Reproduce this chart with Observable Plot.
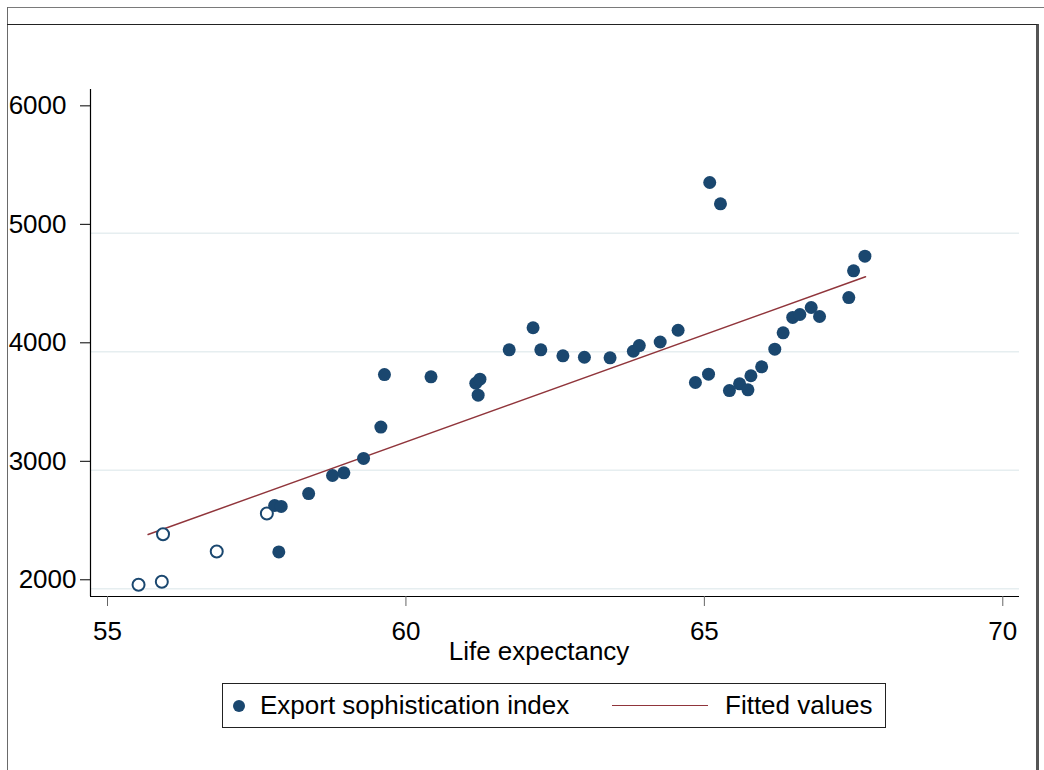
<!DOCTYPE html>
<html>
<head>
<meta charset="utf-8">
<script src="https://cdn.jsdelivr.net/npm/d3@7"></script>
<script src="https://cdn.jsdelivr.net/npm/@observablehq/plot@0.6"></script>
<style>
  html, body { margin: 0; padding: 0; background: #fff; }
  #wrap { position: relative; width: 1044px; height: 770px; overflow: hidden; background: #fff;
          font-family: "Liberation Sans", Arial, sans-serif; }
  #chart { position: absolute; left: 0; top: 0; }
  .topline { position: absolute; left: 7px; top: 7px; width: 1037px; height: 0; border-top: 1px solid #7a7a7a; }
  .leftline { position: absolute; left: 7px; top: 7px; width: 0; height: 763px; border-left: 1.5px solid #6a6a6a; }
  .innerframe { position: absolute; left: 7px; top: 24px; width: 1029px; height: 760px;
                border-top: 1.5px solid #222; border-right: 3px solid #555; }
  #legend { position: absolute; left: 222px; top: 683px; width: 664px; height: 45px;
            border: 1px solid #222; box-sizing: border-box; font-size: 26px; color: #000; }
  #legend .dot { position: absolute; left: 10px; top: 16px; width: 12px; height: 12px; border-radius: 50%; background: #1a476f; }
  #legend .t1 { position: absolute; left: 37px; top: 6px; white-space: nowrap; }
  #legend .ln { position: absolute; left: 389px; top: 21px; width: 96px; height: 0; border-top: 1.5px solid #90353b; }
  #legend .t2 { position: absolute; left: 502px; top: 6px; white-space: nowrap; }
</style>
</head>
<body>
<div id="wrap">
  <div class="topline"></div>
  <div class="leftline"></div>
  <div class="innerframe"></div>
  <div id="chart"></div>
  <div id="legend">
    <div class="dot"></div><div class="t1">Export sophistication index</div>
    <div class="ln"></div><div class="t2">Fitted values</div>
  </div>
</div>
<script>
// Filled markers: life expectancy and export sophistication index
const lifeFilled = [57.80, 57.91, 57.87, 58.37, 58.77, 58.96, 59.29, 59.58, 59.64, 60.42,
  61.17, 61.24, 61.21, 61.73, 62.13, 62.26, 62.63, 62.99, 63.42, 63.81,
  63.91, 64.26, 64.56, 64.85, 65.07, 65.09, 65.27, 65.42, 65.59, 65.73,
  65.78, 65.96, 66.18, 66.32, 66.48, 66.60, 66.79, 66.93, 67.42, 67.50, 67.69];
const expyFilled = [2627, 2619, 2235, 2728, 2880, 2903, 3024, 3289, 3732, 3713,
  3659, 3693, 3558, 3941, 4127, 3941, 3890, 3878, 3873, 3929,
  3977, 4007, 4106, 3665, 3735, 5353, 5173, 3597, 3654, 3603,
  3722, 3797, 3946, 4084, 4214, 4239, 4298, 4222, 4382, 4608, 4731];
// Hollow markers
const lifeHollow = [55.52, 55.91, 55.93, 56.83, 57.67];
const expyHollow = [1958, 1983, 2385, 2239, 2559];
// Fitted values line endpoints
const fitLife = [55.68, 67.70];
const fitExpy = [2382, 4557];
// Axes
const xTicks = [55, 60, 65, 70];
const yTicksUpper = [3000, 4000, 5000, 6000];
const yTicksLower = [2000];
const yGrid = [2000, 3000, 4000, 5000];
const xDomain = [54.715, 70.28];
const yDomain = [1859, 6138];

const filled = lifeFilled.map((v, i) => ({life: v, expy: expyFilled[i]}));
const hollow = lifeHollow.map((v, i) => ({life: v, expy: expyHollow[i]}));
const fit = fitLife.map((v, i) => ({life: v, expy: fitExpy[i]}));

const navy = "#1a476f";
const maroon = "#90353b";

const chart = Plot.plot({
  width: 1044,
  height: 680,
  marginLeft: 90,
  marginTop: 89,
  marginRight: 25,
  marginBottom: 84,
  style: {fontFamily: '"Liberation Sans", Arial, sans-serif', fontSize: "26px", color: "#000", background: "transparent", overflow: "visible"},
  x: {domain: xDomain},
  y: {domain: yDomain},
  marks: [
    Plot.ruleY(yGrid, {stroke: "#e6eef0", strokeWidth: 1.5, dy: 9}),
    Plot.ruleX([xDomain[0]], {stroke: "#000", strokeWidth: 1.2}),
    Plot.ruleY([yDomain[0]], {stroke: "#000", strokeWidth: 1.2}),
    Plot.axisX(xTicks, {tickSize: 10, tickPadding: 15, stroke: "#666", fill: "#000", label: null, tickFormat: d => String(d)}),
    Plot.axisY(yTicksUpper, {tickSize: 10, tickPadding: 14, stroke: "#000", fill: "#000", label: null, tickFormat: d => String(d)}),
    Plot.axisY(yTicksLower, {tickSize: 10, tickPadding: 4, stroke: "#000", fill: "#000", label: null, tickFormat: d => String(d)}),
    Plot.text(["Life expectancy"], {frameAnchor: "bottom", dy: 63, dx: -16, fill: "#000", fontSize: 26}),
    Plot.line(fit, {x: "life", y: "expy", stroke: maroon, strokeWidth: 1.5}),
    Plot.dot(hollow, {x: "life", y: "expy", r: 6, fill: "#fff", stroke: navy, strokeWidth: 2}),
    Plot.dot(filled, {x: "life", y: "expy", r: 6.5, fill: navy, stroke: "none"})
  ]
});
document.getElementById("chart").appendChild(chart);
</script>
</body>
</html>
